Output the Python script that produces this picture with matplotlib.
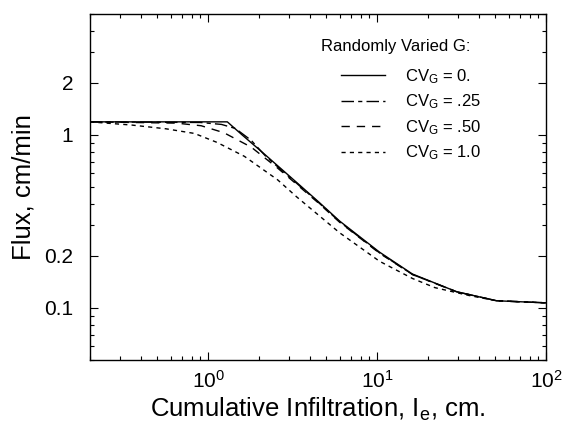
import matplotlib
matplotlib.use("Agg")
import matplotlib.pyplot as plt
from matplotlib.ticker import FixedLocator, FixedFormatter, LogLocator, NullFormatter

plt.rcParams['font.family'] = ['Liberation Sans', 'DejaVu Sans']
plt.rcParams['mathtext.fontset'] = 'custom'
plt.rcParams['mathtext.rm'] = 'Liberation Sans'
plt.rcParams['mathtext.it'] = 'Liberation Sans'
plt.rcParams['mathtext.default'] = 'regular'

# --- data ---
x_cv0 = [0.2, 1.3, 1.59, 2.09, 2.83, 3.33, 4.5, 6.0, 10.35, 16.2, 29.6, 51, 100]
y_cv0 = [1.19, 1.19, 1.0, 0.795, 0.613, 0.533, 0.411, 0.318, 0.21, 0.157, 0.124, 0.110, 0.107]

x_cv25 = [0.2, 0.9, 1.2, 1.45, 1.8, 2.2, 2.83, 3.33, 4.5, 6.0, 10.35, 16.2, 29.6, 51, 100]
y_cv25 = [1.19, 1.18, 1.15, 1.09, 0.93, 0.75, 0.605, 0.527, 0.407, 0.315, 0.208, 0.156, 0.124, 0.110, 0.107]

x_cv50 = [0.2, 0.65, 0.91, 1.24, 1.8, 2.57, 3.33, 4.5, 6.0, 10.35, 16.2, 29.6, 51, 100]
y_cv50 = [1.19, 1.17, 1.13, 1.03, 0.85, 0.645, 0.52, 0.404, 0.313, 0.207, 0.156, 0.124, 0.110, 0.107]

x_cv100 = [0.2, 0.354, 0.563, 0.83, 1.13, 1.64, 2.58, 3.33, 6.0, 10.35, 16.2, 22, 35, 51, 100]
y_cv100 = [1.19, 1.14, 1.085, 1.02, 0.905, 0.752, 0.55, 0.44, 0.272, 0.186, 0.148, 0.131, 0.118, 0.110, 0.107]

labels = [r'CV$_{G}$ = 0.', r'CV$_{G}$ = .25', r'CV$_{G}$ = .50', r'CV$_{G}$ = 1.0']
legend_title = 'Randomly Varied G:'
ytick_vals = [0.1, 0.2, 1, 2]
ytick_labels = ['0.1', '0.2', '1', '2']

fig = plt.figure(figsize=(5.64, 4.26), dpi=100)
ax = fig.add_axes([90/564, 1-360/426, (546-90)/564, (360-14)/426])

styles = ['-', (0, (9, 3, 3, 3)), (0, (6, 5)), (0, (3, 3))]
series = [(x_cv0, y_cv0), (x_cv25, y_cv25), (x_cv50, y_cv50), (x_cv100, y_cv100)]
handles = []
for (xs, ys), ls, lab in zip(series, styles, labels):
    h, = ax.plot(xs, ys, color='black', lw=1.0, linestyle=ls, label=lab)
    handles.append(h)

ax.set_xscale('log')
ax.set_yscale('log')
ax.set_xlim(0.2, 100)
ax.set_ylim(0.05, 5)

ax.yaxis.set_major_locator(FixedLocator(ytick_vals))
ax.yaxis.set_major_formatter(FixedFormatter(ytick_labels))
ax.yaxis.set_minor_locator(LogLocator(base=10, subs=range(1, 10)))
ax.yaxis.set_minor_formatter(NullFormatter())
ax.xaxis.set_minor_locator(LogLocator(base=10, subs=range(2, 10)))
ax.xaxis.set_minor_formatter(NullFormatter())

ax.tick_params(which='both', direction='in', top=True, right=True, width=0.8)
ax.tick_params(which='major', length=6)
ax.tick_params(which='minor', length=3)
ax.tick_params(axis='y', which='major', labelsize=15, pad=12)
ax.tick_params(axis='x', which='major', labelsize=15, pad=7)
for s in ax.spines.values():
    s.set_linewidth(1.0)

ax.set_xlabel(r'Cumulative Infiltration, I$_{e}$, cm.', fontsize=18.5, labelpad=3)
ax.set_ylabel('Flux, cm/min', fontsize=18.5, labelpad=6)

ax.text(321/564, 1-47/426, legend_title, transform=fig.transFigure, fontsize=12,
        ha='left', va='center')
leg = ax.legend(handles=handles, loc='upper left', bbox_to_anchor=(333/564, 1-59/426),
                bbox_transform=fig.transFigure, frameon=False, fontsize=12,
                handlelength=2.6, handletextpad=1.2, labelspacing=0.4, borderpad=0)

fig.savefig('out.png', dpi=100)
